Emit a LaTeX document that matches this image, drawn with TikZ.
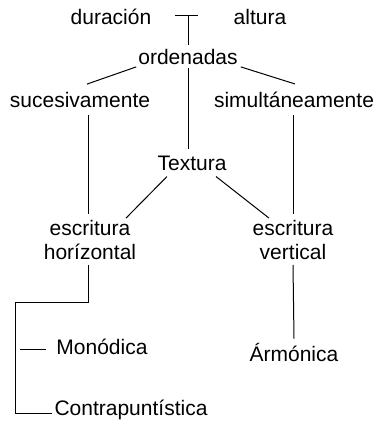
\documentclass[tikz,border=0pt]{standalone}
\usepackage{fontspec}
\setmainfont{Liberation Sans}
\usepackage{tikz}
\usetikzlibrary{calc}
\tikzset{
    lbl/.style={inner sep=0pt, font=\fontsize{21}{24}\selectfont, align=center},
    ln/.style={line width=1pt}
}

\begin{document}
\begin{tikzpicture}[x=1pt, y=-1pt]
    \useasboundingbox (0,0) rectangle (389,431);

    % Labels
    \node[lbl] (dur) at (111,17) {duración};
    \node[lbl] (alt) at (260,17) {altura};
    \node[lbl] (ord) at (188,57) {ordenadas};
    \node[lbl] (suc) at (80,100) {sucesivamente};
    \node[lbl] (sim) at (294,100) {simultáneamente};
    \node[lbl] (tex) at (192,163) {Textura};
    \node[lbl] (eh) at (90,240) {escritura\\horízontal};
    \node[lbl] (ev) at (293,240) {escritura\\vertical};
    \node[lbl] (mon) at (102,347) {Monódica};
    \node[lbl] (arm) at (294,352) {Ármónica};
    \node[lbl] (con) at (131,410) {Contrapuntística};

    \coordinate (tee) at (188,15);
    \coordinate (corner) at (15,302);

    \draw[ln] ($(tee)+(-13,0)$) -- ($(tee)+(10,0)$);
    \draw[ln] (tee) -- ($(ord.north)+(0,-4)$);

    \draw[ln] ($(ord.south west)+(-2,2)$) -- ($(suc.north)+(7,-8)$);
    \draw[ln] ($(ord.south east)+(3,2)$) -- ($(sim.north)+(1,-8)$);
    \draw[ln] ($(ord.south)+(0,3)$) -- ($(ord.south |- tex.north)+(0,-6)$);

    \draw[ln] ($(eh.north |- suc.south)+(-2,7)$) -- ($(eh.north)+(-2,-6)$);
    \draw[ln] ($(sim.south)+(-1,7)$) -- ($(ev.north)+(0,-6)$);

    \draw[ln] ($(tex.south)+(-25,6)$) -- ($(eh.north)+(36,-2)$);
    \draw[ln] ($(tex.south)+(24,6)$) -- ($(ev.north)+(-24,-2)$);

    \draw[ln] ($(eh.south)+(-2,5)$) |- (corner) |- ($(con.west)+(-2,3)$);
    \draw[ln] ($(corner |- mon.west)+(5,2)$) -- ($(mon.west)+(-10,2)$);
    \draw[ln] ($(ev.south)+(0,5)$) -- ($(arm.north)+(0,-4)$);
\end{tikzpicture}
\end{document}
